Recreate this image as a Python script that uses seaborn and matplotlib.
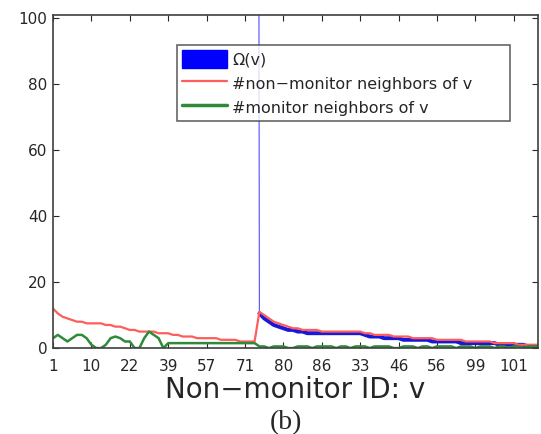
import numpy as np
import pandas as pd
import matplotlib.pyplot as plt
import seaborn as sns
from matplotlib.patches import Patch
from matplotlib.lines import Line2D

# non-monitor nodes, in plotting order (index 1..102)
node_idx = np.arange(1, 103)
tick_pos = [1, 9, 17, 25, 33, 41, 49, 57, 65, 73, 81, 89, 97]
tick_ids = ['1', '10', '22', '39', '57', '71', '80', '86', '33', '46', '56', '99', '101']

# Omega(v): off the scale (infinite) for the first 43 nodes
omega_a = [1000] * 43
omega_b = [10.5, 9, 8, 7, 6.5, 6, 5.5, 5.5, 5, 5,
           4.5, 4.5, 4.5, 4.5, 4.5, 4.5, 4.5, 4.5, 4.5, 4.5,
           4.5, 4.5, 4, 3.5, 3.5, 3.5, 3, 3, 3,
           3, 2.5, 2.5, 2.5, 2.5, 2.5, 2.5, 2, 2, 2,
           2, 2, 2, 1.5, 1.5, 1.5, 1.5, 1.5, 1.5,
           1.5, 1.5, 1, 1, 1, 1, 1, 1, 0.5,
           0.5, 0.5]

# number of non-monitor neighbours
nonmon = [12, 10.5, 9.5, 9, 8.5, 8, 8, 7.5, 7.5, 7.5,
          7.5, 7, 7, 6.5, 6.5, 6, 5.5, 5.5, 5, 5,
          5, 5, 4.5, 4.5, 4.5, 4, 4, 3.5, 3.5, 3.5,
          3, 3, 3, 3, 3, 2.5, 2.5, 2.5, 2.5, 2,
          2, 2, 2,
          11, 10, 9, 8, 7.5, 7, 6.5, 6, 6, 5.5,
          5.5, 5.5, 5.5, 5, 5, 5, 5, 5, 5, 5,
          5, 5, 4.5, 4.5, 4, 4, 4, 4, 3.5,
          3.5, 3.5, 3.5, 3, 3, 3, 3, 3, 2.5, 2.5,
          2.5, 2.5, 2.5, 2.5, 2, 2, 2, 2, 2,
          2, 1.5, 1.5, 1.5, 1.5, 1.5, 1, 1, 1,
          1, 1]

# number of monitor neighbours
mon = [3, 4, 3, 2, 3, 4, 4, 3, 1, 0,
       0, 1, 3, 3.5, 3, 2, 2, 0, 0, 3,
       5, 4, 3, 0, 1.5, 1.5, 1.5, 1.5, 1.5, 1.5,
       1.5, 1.5, 1.5, 1.5, 1.5, 1.5, 1.5, 1.5, 1.5, 1.5,
       1.5, 1.5, 1.5,
       0.5, 0.5, 0, 0.5, 0.5, 0.5, 0, 0, 0.5, 0.5,
       0.5, 0, 0.5, 0.5, 0.5, 0.5, 0, 0.5, 0.5, 0,
       0.5, 0.5, 0.5, 0, 0.5, 0.5, 0.5, 0.5, 0, 0,
       0.5, 0.5, 0.5, 0, 0.5, 0.5, 0, 0.5, 0.5, 0.5,
       0.5, 0, 0.5, 0.5, 0.5, 0, 0.5, 0.5, 0.5,
       0, 0.5, 0.5, 0, 0.5, 0.5, 0, 0.5,
       0.5, 0.5]

df = pd.DataFrame({'v': node_idx,
                   'omega': omega_a + omega_b,
                   'nonmon': nonmon,
                   'mon': mon})

sns.set_style('ticks')
plt.rcParams['font.family'] = ['DejaVu Sans']

fig = plt.figure(figsize=(5.41, 4.34), dpi=100)
ax = fig.add_axes([0.098, 0.198, 0.896, 0.767])

# thin line for the drop from infinity, thick for the finite part
sns.lineplot(data=df, x='v', y='omega', ax=ax, color='#5050ff', lw=0.8)
sns.lineplot(data=df[df['v'] >= 44], x='v', y='omega', ax=ax, color='#1818d8', lw=2.8)
sns.lineplot(data=df, x='v', y='nonmon', ax=ax, color='#ff5c5c', lw=1.6)
sns.lineplot(data=df, x='v', y='mon', ax=ax, color='#2e8b3a', lw=1.8)

ax.set_xlim(1, 102)
ax.set_ylim(0, 101)
ax.set_xticks(tick_pos)
ax.set_xticklabels(tick_ids)
ax.set_yticks([0, 20, 40, 60, 80, 100])
ax.tick_params(direction='in', top=True, right=True, labelsize=11, length=4, pad=4)
ax.tick_params(axis='x', pad=8)
for s in ax.spines.values():
    s.set_color('#404040')
    s.set_linewidth(1.2)
ax.set_xlabel('Non\u2212monitor ID: v', fontsize=20, labelpad=1)
ax.set_ylabel('')

handles = [Patch(facecolor='#0000ff', edgecolor='#0000ff'),
           Line2D([], [], color='#ff5c5c', lw=1.6),
           Line2D([], [], color='#2e8b3a', lw=2.5)]
labels = ['\u03a9(v)', '#non\u2212monitor neighbors of v', '#monitor neighbors of v']
leg = ax.legend(handles, labels, loc='upper left',
                bbox_to_anchor=(0.256, 0.5, 0.687, 0.41), mode='expand',
                borderaxespad=0, fontsize=11.5, frameon=True, fancybox=False,
                handlelength=2.8, handleheight=1.4, borderpad=0.3,
                labelspacing=0.35, handletextpad=0.35)
leg.get_frame().set_edgecolor('#404040')
leg.get_frame().set_linewidth(1.2)

fig.text(0.529, 0.012, '(b)', fontsize=20, family='Liberation Serif', ha='center')

fig.savefig('out.png', dpi=100)
